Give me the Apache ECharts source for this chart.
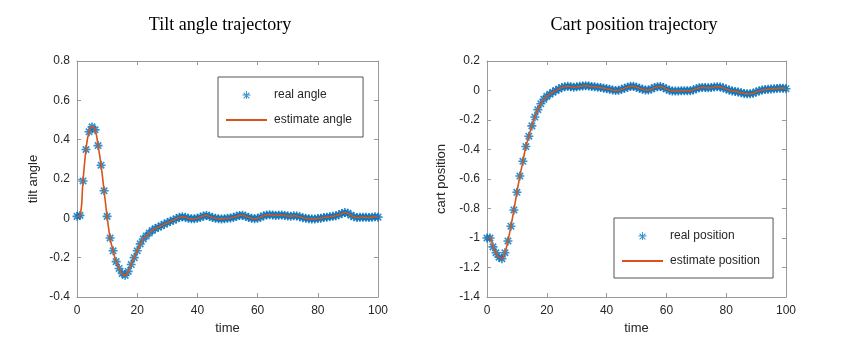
<!DOCTYPE html>
<html>
<head>
<meta charset="utf-8">
<script src="https://cdn.jsdelivr.net/npm/echarts@6/dist/echarts.min.js"></script>
<style>
html, body { margin: 0; padding: 0; background: #fff; }
#chart { width: 844px; height: 345px; }
</style>
</head>
<body>
<div id="chart"></div>
<script>
// sample values, one per time step 0..100
var tiltAngle = [
    0.01, 0.015, 0.19, 0.35, 0.44, 0.465, 0.45, 0.37, 0.27, 0.14,
    0.01, -0.10, -0.165, -0.22, -0.255, -0.28, -0.29, -0.27, -0.235, -0.20,
    -0.165, -0.13, -0.105, -0.09, -0.075, -0.062, -0.052, -0.045, -0.038, -0.03,
    -0.022, -0.015, -0.01, -0.002, 0.005, 0.008, 0.005, 0.0, -0.002, -0.002,
    0.0, 0.005, 0.012, 0.015, 0.01, 0.004, 0.0, -0.002, -0.003, -0.002,
    0.0, 0.002, 0.005, 0.01, 0.015, 0.016, 0.01, 0.004, 0.0, -0.002,
    0.0, 0.006, 0.013, 0.017, 0.018, 0.017, 0.015, 0.016, 0.017, 0.015,
    0.012, 0.011, 0.013, 0.012, 0.008, 0.003, 0.0, -0.002, -0.003, -0.003,
    -0.001, 0.001, 0.004, 0.006, 0.008, 0.01, 0.013, 0.018, 0.025, 0.03,
    0.026, 0.016, 0.008, 0.004, 0.005, 0.006, 0.005, 0.004, 0.006, 0.008,
    0.006
];

var cartPosition = [
    -1.0, -1.0, -1.06, -1.10, -1.13, -1.14, -1.10, -1.02, -0.92, -0.81,
    -0.69, -0.58, -0.48, -0.38, -0.31, -0.24, -0.18, -0.13, -0.09, -0.06,
    -0.04, -0.025, -0.012, 0.0, 0.01, 0.02, 0.025, 0.028, 0.026, 0.022,
    0.025, 0.028, 0.03, 0.033, 0.03, 0.027, 0.025, 0.022, 0.02, 0.016,
    0.012, 0.008, 0.003, 0.0, 0.002, 0.008, 0.015, 0.022, 0.028, 0.028,
    0.022, 0.015, 0.008, 0.004, 0.003, 0.01, 0.02, 0.025, 0.027, 0.02,
    0.01, 0.002, -0.003, -0.004, -0.003, -0.002, -0.001, -0.002, -0.001, 0.004,
    0.012, 0.018, 0.021, 0.02, 0.018, 0.02, 0.024, 0.026, 0.024, 0.018,
    0.01, 0.003, -0.003, -0.006, -0.01, -0.015, -0.02, -0.022, -0.022, -0.018,
    -0.01, -0.003, 0.003, 0.006, 0.008, 0.01, 0.012, 0.014, 0.016, 0.016,
    0.012
];

var titles = ['Tilt angle trajectory', 'Cart position trajectory'];
var yNames = ['tilt angle', 'cart position'];
var angleNames = ['real angle', 'estimate angle'];
var positionNames = ['real position', 'estimate position'];

var blue = '#0072BD';
var orange = '#D95319';
var axisGray = '#999';
var textColor = '#262626';

// asterisk marker (matlab '*')
var star = 'path://M0 8.2L20 8.2L20 11.8L0 11.8Z' +
    'M8.2 0L11.8 0L11.8 20L8.2 20Z' +
    'M4.2 1.6L18.4 15.8L15.8 18.4L1.6 4.2Z' +
    'M15.8 1.6L18.4 4.2L4.2 18.4L1.6 15.8Z';
// legend icons, padded so they sit right inside a 41x14 slot
var pad = 'M0 0L0.01 0L0.01 0.01Z M81.99 27.99L82 27.99L82 28Z';
var legendStar = 'path://' + pad +
    'M33 13.1L49 13.1L49 14.9L33 14.9Z' +
    'M40.1 6L41.9 6L41.9 22L40.1 22Z' +
    'M35.9 8.6L47.4 20.1L46.1 21.4L34.6 9.9Z' +
    'M46.1 8.6L47.4 9.9L35.9 21.4L34.6 20.1Z';
var legendLine = 'path://' + pad + 'M0 12.2L82 12.2L82 15.8L0 15.8Z';

function pairs(values) {
    return values.map(function(v, i) { return [i, v]; });
}

function xAxes(gridIndex) {
    return [{
        type: 'value', gridIndex: gridIndex, min: 0, max: 100, interval: 20,
        name: 'time', nameLocation: 'middle', nameGap: 24,
        nameTextStyle: { fontFamily: 'Liberation Sans', fontSize: 13, color: textColor },
        axisLine: { show: true, onZero: false, lineStyle: { color: axisGray } },
        axisTick: { show: true, inside: true, length: 4, lineStyle: { color: axisGray } },
        axisLabel: { fontFamily: 'Liberation Sans', fontSize: 12, color: textColor, margin: 8 },
        splitLine: { show: false }
    }, {
        type: 'value', gridIndex: gridIndex, min: 0, max: 100, interval: 20, position: 'top',
        axisLine: { show: true, onZero: false, lineStyle: { color: axisGray } },
        axisTick: { show: true, inside: true, length: 4, lineStyle: { color: axisGray } },
        axisLabel: { show: false },
        splitLine: { show: false }
    }];
}

function yAxes(gridIndex, min, max, name, gap) {
    return [{
        type: 'value', gridIndex: gridIndex, min: min, max: max, interval: 0.2,
        name: name, nameLocation: 'middle', nameGap: gap,
        nameTextStyle: { fontFamily: 'Liberation Sans', fontSize: 13, color: textColor },
        axisLine: { show: true, onZero: false, lineStyle: { color: axisGray } },
        axisTick: { show: true, inside: true, length: 4, lineStyle: { color: axisGray } },
        axisLabel: { fontFamily: 'Liberation Sans', fontSize: 12, color: textColor, margin: 7 },
        splitLine: { show: false }
    }, {
        type: 'value', gridIndex: gridIndex, min: min, max: max, interval: 0.2, position: 'right',
        axisLine: { show: true, onZero: false, lineStyle: { color: axisGray } },
        axisTick: { show: true, inside: true, length: 4, lineStyle: { color: axisGray } },
        axisLabel: { show: false },
        splitLine: { show: false }
    }];
}

function legend(names, left, top, rightPad) {
    return {
        orient: 'vertical', left: left, top: top,
        itemWidth: 41, itemHeight: 14, itemGap: 11, padding: [11, rightPad, 10, 8],
        borderColor: '#555', borderWidth: 1, borderRadius: 0,
        textStyle: { fontFamily: 'Liberation Sans', fontSize: 12, color: textColor, padding: [0, 0, 0, 2] },
        selectedMode: false,
        data: [{ name: names[0], icon: legendStar }, { name: names[1], icon: legendLine }]
    };
}

function scatter(name, values, xi, yi) {
    return {
        type: 'scatter', name: name, xAxisIndex: xi, yAxisIndex: yi,
        data: pairs(values), symbol: star, symbolSize: 9,
        itemStyle: { color: blue }, z: 2, animation: false
    };
}

function line(name, values, xi, yi) {
    return {
        type: 'line', name: name, xAxisIndex: xi, yAxisIndex: yi,
        data: pairs(values), symbol: 'none', smooth: true,
        lineStyle: { color: orange, width: 1.6 }, itemStyle: { color: orange },
        z: 3, animation: false
    };
}

var chart = echarts.init(document.getElementById('chart'));
chart.setOption({
    backgroundColor: '#fff',
    animation: false,
    title: [
        { text: titles[0], left: 215, top: 11, textAlign: 'center',
          textStyle: { fontFamily: 'Liberation Serif', fontSize: 18, fontWeight: 'normal', color: '#000' } },
        { text: titles[1], left: 629, top: 11, textAlign: 'center',
          textStyle: { fontFamily: 'Liberation Serif', fontSize: 18, fontWeight: 'normal', color: '#000' } }
    ],
    grid: [
        { left: 77, top: 61, width: 301, height: 236 },
        { left: 487, top: 61, width: 299, height: 236 }
    ],
    xAxis: xAxes(0).concat(xAxes(1)),
    yAxis: yAxes(0, -0.4, 0.8, yNames[0], 37).concat(yAxes(1, -1.4, 0.2, yNames[1], 39)),
    legend: [
        legend(angleNames, 218, 77, 11),
        legend(positionNames, 614, 218, 13)
    ],
    series: [
        scatter(angleNames[0], tiltAngle, 0, 0),
        line(angleNames[1], tiltAngle, 0, 0),
        scatter(positionNames[0], cartPosition, 2, 2),
        line(positionNames[1], cartPosition, 2, 2)
    ]
});
</script>
</body>
</html>
